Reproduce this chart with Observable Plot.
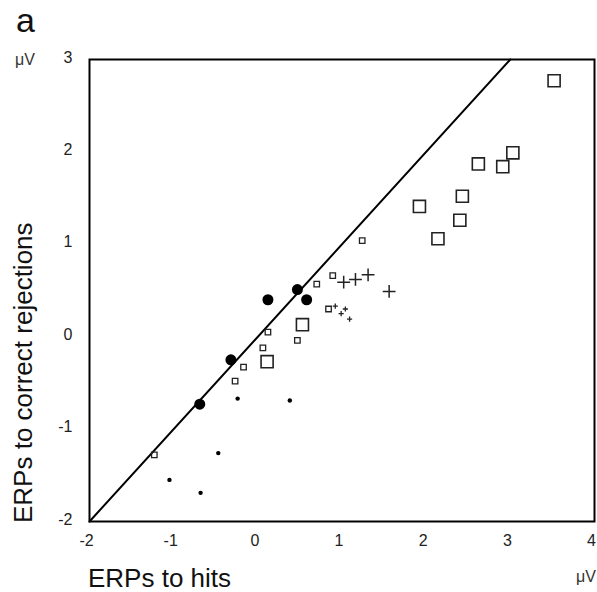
<!DOCTYPE html>
<html><head><meta charset="utf-8">
<script src="https://cdn.jsdelivr.net/npm/d3@7"></script>
<script src="https://cdn.jsdelivr.net/npm/@observablehq/plot@0.6"></script>
<style>body{margin:0;background:#fff;}</style>
</head><body><div id="chart"></div>
<script>
const xTicks = [-2, -1, 0, 1, 2, 3, 4];
const yTicks = [-2, -1, 0, 1, 2, 3];
const identityLine = [-2, 3];

const bigCircleX = [0.12, 0.47, 0.58, -0.32, -0.69];
const bigCircleY = [0.40, 0.51, 0.40, -0.25, -0.73];

const smallDotX = [-0.24, 0.38, -0.47, -1.05, -0.68];
const smallDotY = [-0.67, -0.69, -1.26, -1.55, -1.69];

const bigSquareX = [3.52, 2.62, 2.91, 3.03, 2.43, 1.92, 2.40, 2.14, 0.53, 0.11];
const bigSquareY = [2.77, 1.87, 1.84, 1.99, 1.52, 1.41, 1.26, 1.06, 0.13, -0.27];

const smallSquareX = [1.24, 0.70, 0.89, 0.12, 0.06, -0.17, -0.27, 0.47, 0.84, -1.23];
const smallSquareY = [1.04, 0.57, 0.66, 0.05, -0.12, -0.33, -0.48, -0.04, 0.30, -1.28];

const bigPlusX = [1.02, 1.16, 1.31, 1.56];
const bigPlusY = [0.59, 0.62, 0.67, 0.49];

const smallPlusX = [0.92, 0.99, 1.04, 1.09];
const smallPlusY = [0.33, 0.25, 0.30, 0.19];

const xLabel = "ERPs to hits";
const yLabel = "ERPs to correct rejections";
const unit = "μV";
const panel = "a";

const pts = (xs, ys) => xs.map((x, i) => ({x, y: ys[i]}));

const chart = Plot.plot({
  width: 597, height: 592,
  marginLeft: 89, marginRight: 3, marginTop: 59, marginBottom: 71,
  x: {domain: [-2, 4]},
  y: {domain: [-2, 3]},
  style: {fontFamily: "'Liberation Sans', Arial, sans-serif", fontSize: "16px", color: "#222", background: "#fff"},
  marks: [
    Plot.axisX({ticks: xTicks, tickSize: 0, tickPadding: 13, dx: -3, label: null, tickFormat: d => String(d), fontSize: 16}),
    Plot.axisY({ticks: yTicks, tickSize: 0, tickPadding: 17, dy: -2, label: null, tickFormat: d => String(d), fontSize: 16}),
    Plot.line(identityLine, {x: d => d, y: d => d, stroke: "#000", strokeWidth: 2}),
    Plot.dot(pts(bigSquareX, bigSquareY), {x: "x", y: "y", symbol: "square", r: 6.8, stroke: "#222", strokeWidth: 1.6, fill: "none"}),
    Plot.dot(pts(smallSquareX, smallSquareY), {x: "x", y: "y", symbol: "square", r: 3.1, stroke: "#222", strokeWidth: 1.3, fill: "none"}),
    Plot.dot(pts(bigPlusX, bigPlusY), {x: "x", y: "y", symbol: "plus", r: 4.2, stroke: "#222", strokeWidth: 1.5}),
    Plot.dot(pts(smallPlusX, smallPlusY), {x: "x", y: "y", symbol: "plus", r: 1.8, stroke: "#222", strokeWidth: 1.3}),
    Plot.dot(pts(bigCircleX, bigCircleY), {x: "x", y: "y", r: 5.5, fill: "#000", stroke: "none"}),
    Plot.dot(pts(smallDotX, smallDotY), {x: "x", y: "y", r: 2.2, fill: "#000", stroke: "none"}),
    Plot.frame({stroke: "#000", strokeWidth: 2})
  ]
});

const svg = d3.select(chart);
svg.selectAll('g[aria-label="x-axis tick label"], g[aria-label="y-axis tick label"]')
  .style("font-size", "16px").attr("fill", "#222");
const font = "'Liberation Sans', Arial, sans-serif";
const addText = (x, y, size, txt, anchor, fill) =>
  svg.append("text").attr("x", x).attr("y", y).attr("text-anchor", anchor)
    .style("font-size", size + "px").attr("font-family", font).attr("fill", fill).text(txt);
addText(16, 32, 34, panel, "start", "#111");
addText(15, 65, 16, unit, "start", "#333");
addText(596, 582, 16, unit, "end", "#333");
addText(88, 587, 26, xLabel, "start", "#111");
svg.append("text").attr("transform", "translate(32,523) rotate(-90)").attr("text-anchor", "start")
  .style("font-size", "26px").attr("font-family", font).attr("fill", "#111").text(yLabel);

document.getElementById("chart").appendChild(chart);
</script>
</body></html>
